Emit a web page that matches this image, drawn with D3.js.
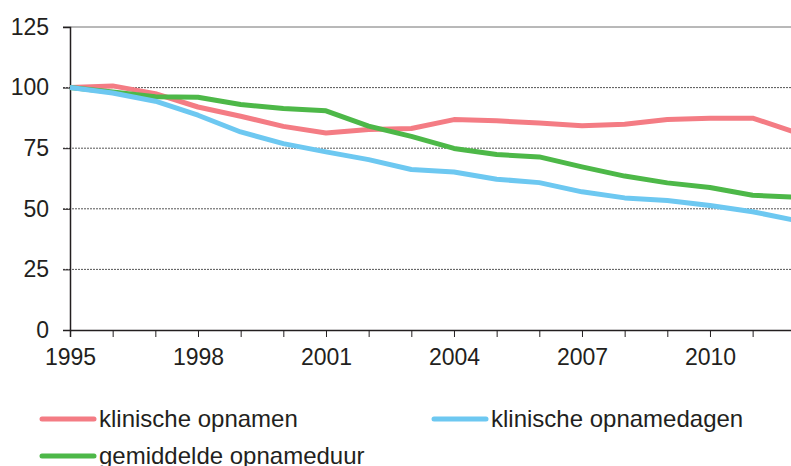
<!DOCTYPE html>
<html>
<head>
<meta charset="utf-8">
<script src="https://cdn.jsdelivr.net/npm/d3@7"></script>
<style>
  body { margin: 0; background: #fff; }
  text { font-family: "Liberation Sans", Arial, sans-serif; fill: #231f20; }
</style>
</head>
<body>
<div id="chart"></div>
<script>
// jaren en indexcijfers (1995 = 100)
const years = d3.range(1995, 2013);
const opnamen      = [100, 100.7, 97.5, 92, 88.2, 84, 81.3, 82.7, 83.1, 86.8, 86.3, 85.4, 84.3, 84.9, 86.8, 87.4, 87.4, 81.6];
const opnamedagen  = [100, 97.8, 94.4, 88.6, 81.7, 76.9, 73.5, 70.3, 66.2, 65.2, 62.2, 60.8, 57, 54.5, 53.4, 51.4, 48.8, 45.2];
const opnameduur   = [100, 98.2, 96.2, 96, 93, 91.4, 90.4, 84.1, 79.9, 74.9, 72.4, 71.4, 67.3, 63.5, 60.7, 58.8, 55.6, 54.8];
const yTicks = [0, 25, 50, 75, 100, 125];
const xLabels = [1995, 1998, 2001, 2004, 2007, 2010];

const series = [
    {name: "klinische opnamen", values: opnamen, color: "#f47c84"},
    {name: "klinische opnamedagen", values: opnamedagen, color: "#6dc8f1"},
    {name: "gemiddelde opnameduur", values: opnameduur, color: "#4db848"}
];

const W = 791, H = 466;
const margin = {top: 27, left: 70, bottom: 136};

const svg = d3.select("#chart").append("svg")
    .attr("width", W)
    .attr("height", H);

const x = d3.scaleLinear().domain([1995, 2012]).range([margin.left, 795.3]);
const y = d3.scaleLinear().domain([0, 125]).range([H - margin.bottom, margin.top]);

// gridlines
svg.append("g")
    .selectAll("line")
    .data(yTicks.filter(d => d > 0))
    .join("line")
    .attr("x1", 63).attr("x2", W)
    .attr("y1", d => y(d)).attr("y2", d => y(d))
    .attr("stroke", "#444")
    .attr("stroke-width", 1)
    .attr("stroke-dasharray", d => d === 125 ? null : "2,1")
    .attr("opacity", d => d === 125 ? 0.75 : 0.9);

// y axis
const yAxis = svg.append("g")
    .attr("transform", "translate(" + margin.left + ",0)")
    .call(d3.axisLeft(y).tickValues(yTicks).tickSize(7).tickPadding(14));
yAxis.select(".domain").attr("stroke", "#231f20").attr("stroke-width", 1.5);
yAxis.selectAll(".tick line").attr("stroke", "#231f20");
yAxis.selectAll("text").style("font-size", "23px").attr("fill", "#231f20");

// x axis
const xAxis = svg.append("g")
    .attr("transform", "translate(0," + y(0) + ")")
    .call(d3.axisBottom(x).tickValues(years).tickSize(7).tickPadding(12)
        .tickFormat(d => xLabels.includes(d) ? d : ""));
xAxis.select(".domain").attr("stroke", "#231f20").attr("stroke-width", 1.5);
xAxis.selectAll(".tick line").attr("stroke", "#231f20");
xAxis.selectAll("text").style("font-size", "23px").attr("fill", "#231f20");

// lines
const line = d3.line()
    .x((d, i) => x(years[i]))
    .y(d => y(d));

svg.append("g")
    .selectAll("path")
    .data([series[0], series[2], series[1]])
    .join("path")
    .attr("d", d => line(d.values))
    .attr("fill", "none")
    .attr("stroke", d => d.color)
    .attr("stroke-width", 5)
    .attr("stroke-linejoin", "round");

// legend
const legendPos = [[40, 419], [432, 419], [40, 456]];
const legend = svg.append("g")
    .selectAll("g")
    .data(series)
    .join("g")
    .attr("transform", (d, i) => "translate(" + legendPos[i][0] + "," + legendPos[i][1] + ")");

legend.append("line")
    .attr("x1", 2).attr("x2", 54)
    .attr("stroke", d => d.color)
    .attr("stroke-width", 5)
    .attr("stroke-linecap", "round");

legend.append("text")
    .attr("x", 59)
    .attr("y", 8)
    .style("font-size", "24px")
    .text(d => d.name);
</script>
</body>
</html>
